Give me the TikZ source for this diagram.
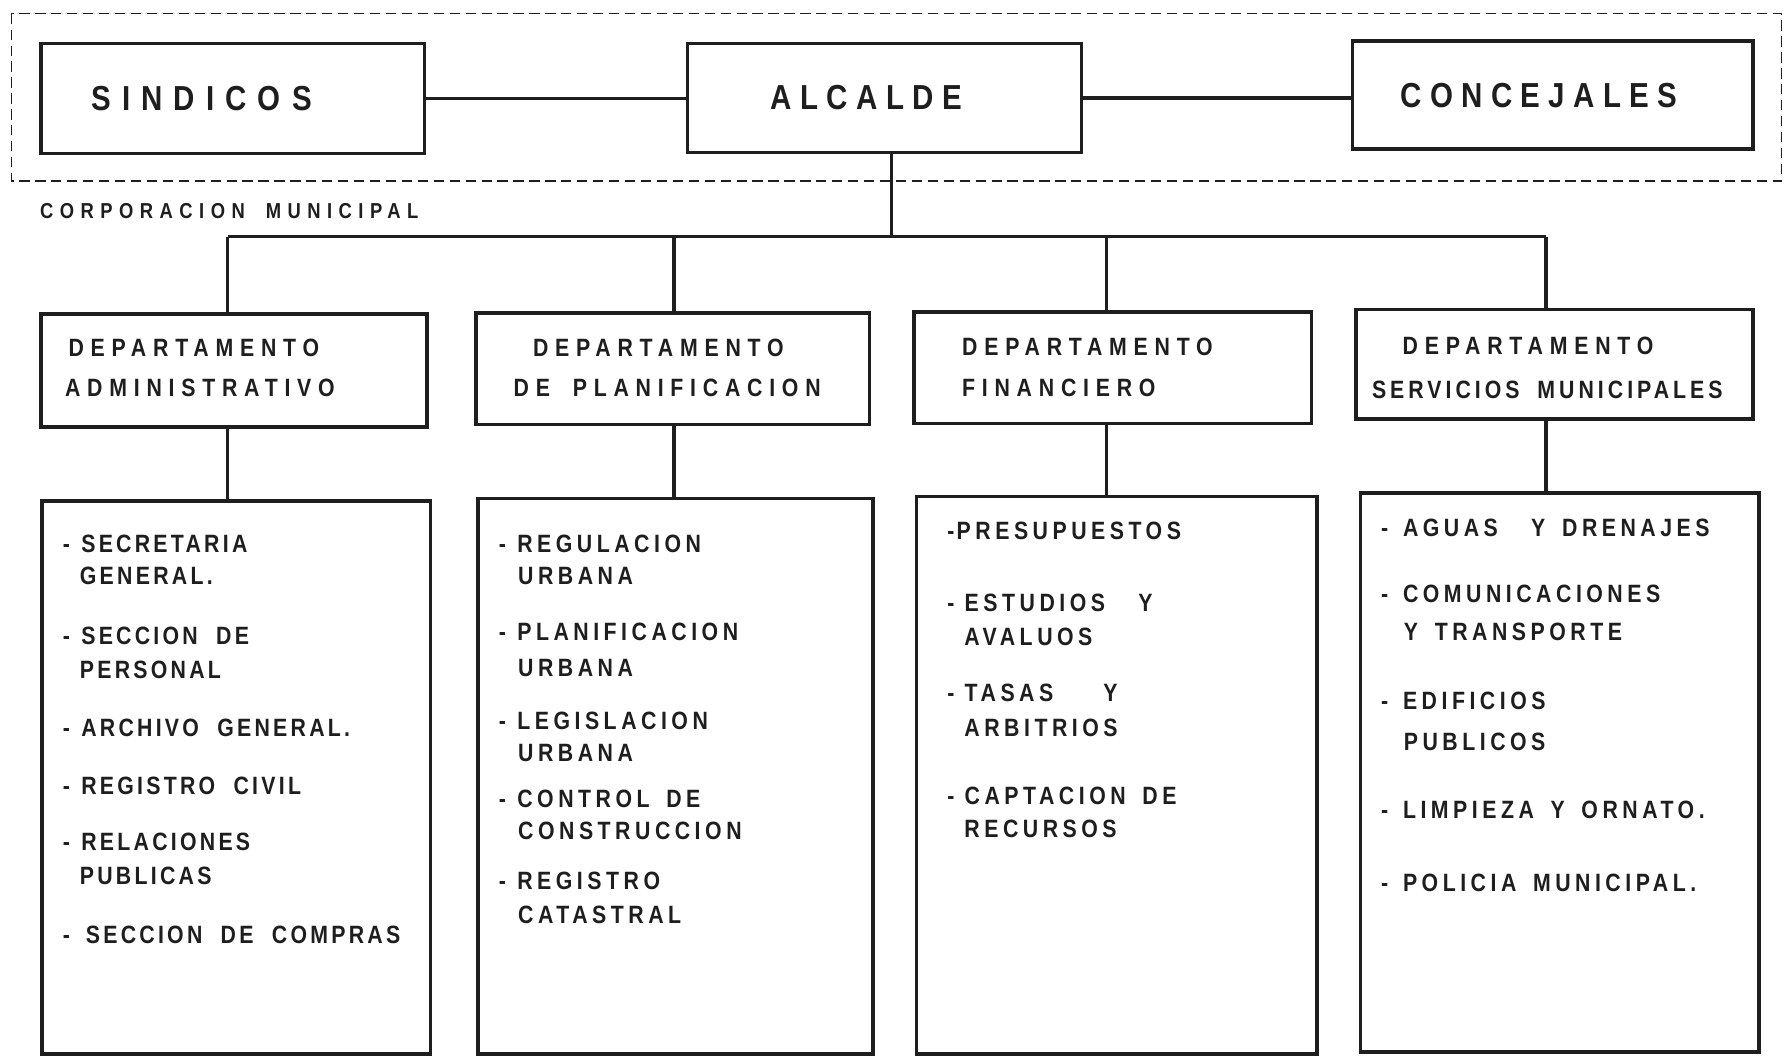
\documentclass[tikz,border=0pt]{standalone}
\usepackage{fontspec}
\usetikzlibrary{fit}
\newfontfamily\ttlfont{Liberation Sans}[FakeStretch=0.85,LetterSpace=24]
\newfontfamily\depfont{Liberation Sans}[FakeStretch=0.85,LetterSpace=27,WordSpace=1.8]
\newfontfamily\itmfont{Liberation Sans}[FakeStretch=0.85,LetterSpace=13,WordSpace=2]
\newfontfamily\itmwfont{Liberation Sans}[FakeStretch=0.85,LetterSpace=18,WordSpace=1.6]
\newfontfamily\grpfont{Liberation Sans}[FakeStretch=0.85,LetterSpace=30,WordSpace=1.8]
\newcommand{\dsh}[1][10]{-\kern#1pt\relax}
\definecolor{ink}{HTML}{1E1E1E}
\tikzset{
  bx/.style={draw=ink,line width=3pt,inner sep=0pt},
  ln/.style={draw=ink,line width=3pt},
  grp/.style={draw=ink,line width=1.4pt,dash pattern=on 9pt off 5pt},
  ttl/.style={anchor=base west,inner sep=0pt,text=ink,font=\ttlfont\bfseries\fontsize{30.5}{30}\selectfont},
  dep/.style={anchor=base west,inner sep=0pt,text=ink,font=\depfont\bfseries\fontsize{22}{22}\selectfont},
  itm/.style={anchor=base west,inner sep=0pt,text=ink,font=\itmfont\bfseries\fontsize{22}{22}\selectfont},
  itmw/.style={itm,font=\itmwfont\bfseries\fontsize{22}{22}\selectfont},
  grplab/.style={anchor=base west,inner sep=0pt,text=ink,font=\grpfont\bfseries\fontsize{19}{19}\selectfont},
}
\begin{document}
\begin{tikzpicture}[x=1pt,y=-1pt]
  \useasboundingbox (0,0) rectangle (1568,929);
  \draw[grp] (10,12) rectangle (1565,159);
  \node[grplab] (corp) at (35,192) {CORPORACION MUNICIPAL};
  \node[bx,fit={(36,38) (373,135)}] (sind) {};
  \node[bx,fit={(604,38) (950,134)}] (alc) {};
  \node[bx,fit={(1188,36) (1540,131)}] (conc) {};
  \node[ttl] (tS) at (80,97) {\addfontfeature{LetterSpace=32}SINDICOS};
  \node[ttl] (tA) at (677,96) {ALCALDE};
  \node[ttl] (tC) at (1230,94) {CONCEJALES};
  \draw[ln] (sind.east) -- (alc.west |- sind.east);
  \draw[ln] (alc.east) -- (conc.west |- alc.east);
  \node[bx,fit={(36,276) (375,375)}] (dA) {};
  \node[bx,fit={(418,275) (764,373)}] (dP) {};
  \node[bx,fit={(803,274) (1152,372)}] (dF) {};
  \node[bx,fit={(1191,272) (1540,368)}] (dS) {};
  \node[bx,fit={(37,440) (378,926)}] (lA) {};
  \node[bx,fit={(420,438) (767,926)}] (lP) {};
  \node[bx,fit={(805,436) (1157,926)}] (lF) {};
  \node[bx,fit={(1195,433) (1545,924)}] (lS) {};
  \coordinate (hub) at (783,208);
  \coordinate (jA) at (200,208);
  \coordinate (jP) at (592,208);
  \coordinate (jF) at (972,208);
  \coordinate (jS) at (1358,208);
  \draw[ln] (alc.south -| hub) -- (hub);
  \draw[ln] (jA) -- (jS);
  \foreach \j/\d/\l in {jA/dA/lA,jP/dP/lP,jF/dF/lF,jS/dS/lS}{
    \draw[ln] (\j) -- (\j |- \d.north);
    \draw[ln] (\j |- \d.south) -- (\j |- \l.north);
  }
  \node[dep] (dA1) at (60,313) {DEPARTAMENTO};
  \node[dep] (dA2) at (57,348) {ADMINISTRATIVO};
  \node[dep] (dP1) at (468,313) {DEPARTAMENTO};
  \node[dep] (dP2) at (451,348) {DE PLANIFICACION};
  \node[dep] (dF1) at (845,312) {DEPARTAMENTO};
  \node[dep] (dF2) at (845,348) {FINANCIERO};
  \node[dep] (dS1) at (1232,311) {DEPARTAMENTO};
  \node[dep] (dS2) at (1205,350) {\addfontfeature{LetterSpace=16}SERVICIOS MUNICIPALES};
  \foreach \x/\y/\t [count=\i] in {55/477/{\dsh SECRETARIA},70/505/{GENERAL.},55/558/{\dsh SECCION DE},70/588/{PERSONAL},
    55/639/{\dsh ARCHIVO GENERAL.},55/690/{\dsh REGISTRO CIVIL},55/739/{\dsh RELACIONES},70/769/{PUBLICAS},55/821/{\dsh[14]SECCION DE COMPRAS}}
    \node[itm] (a\i) at (\x,\y+8) {\t};
  \foreach \x/\y/\t [count=\i] in {438/477/{\dsh REGULACION},455/505/{URBANA},438/555/{\dsh PLANIFICACION},455/586/{URBANA},
    438/633/{\dsh LEGISLACION},455/661/{URBANA},438/701/{\dsh CONTROL DE},455/729/{CONSTRUCCION},438/773/{\dsh REGISTRO},455/803/{CATASTRAL}}
    \node[itmw] (p\i) at (\x,\y+8) {\t};
  \foreach \x/\y/\t [count=\i] in {832/466/{\dsh[2]PRESUPUESTOS},832/529/{\dsh[9]ESTUDIOS \ Y},847/559/{AVALUOS},832/608/{\dsh[9]TASAS \ \ Y},
    847/639/{ARBITRIOS},832/699/{\dsh[9]CAPTACION DE},847/728/{RECURSOS}}
    \node[itmw] (f\i) at (\x,\y+8) {\t};
  \foreach \x/\y/\t [count=\i] in {1213/463/{\dsh[13]AGUAS \ Y DRENAJES},1213/521/{\dsh[13]COMUNICACIONES},1233/555/{Y TRANSPORTE},
    1213/615/{\dsh[13]EDIFICIOS},1233/651/{PUBLICOS},1213/711/{\dsh[13]LIMPIEZA Y ORNATO.},1213/775/{\dsh[13]POLICIA MUNICIPAL.}}
    \node[itmw] (s\i) at (\x,\y+8) {\t};
\end{tikzpicture}
\end{document}
